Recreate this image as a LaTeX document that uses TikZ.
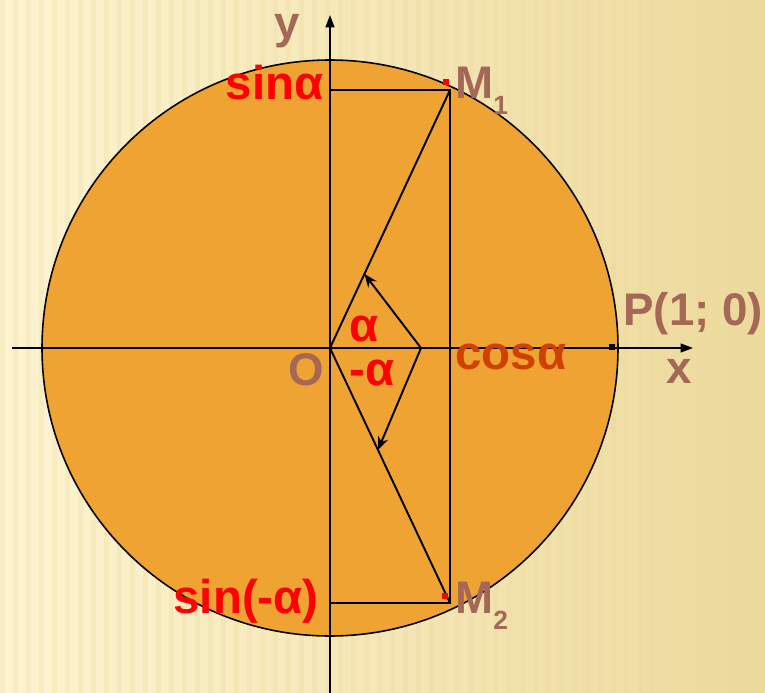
\documentclass[tikz,border=0pt]{standalone}
\usepackage{fontspec}
\setmainfont{Liberation Sans}
\definecolor{DiskOrange}{RGB}{238,163,50}
\definecolor{LabelBrown}{RGB}{166,104,86}
\definecolor{SinRed}{RGB}{255,0,0}
\definecolor{CosRed}{RGB}{208,64,0}
\definecolor{PaperLight}{RGB}{253,244,208}
\definecolor{PaperDark}{RGB}{236,217,156}
\usepackage{tikz}
\usetikzlibrary{arrows.meta, calc}

\begin{document}
\begin{tikzpicture}[x=0.02cm, y=-0.02cm,
    axisline/.style={line width=0.9pt, -{Triangle[length=7pt, width=5pt]}},
    frameline/.style={line width=1.1pt},
    vecline/.style={line width=1.1pt, -{Stealth[length=7.5pt, width=6pt]}},
    brownlbl/.style={text=LabelBrown, font=\fontsize{26}{26}\selectfont\bfseries, inner sep=0pt},
    mlbl/.style={text=LabelBrown, font=\fontsize{26}{26}\selectfont\bfseries, inner sep=0pt},
    redlbl/.style={text=SinRed, font=\fontsize{27}{27}\selectfont\bfseries, inner sep=0pt},
    coslbl/.style={text=CosRed, font=\fontsize{27}{27}\selectfont\bfseries, inner sep=0pt},
    dotmark/.style={rectangle, inner sep=0pt, minimum size=0.12cm}]
  \useasboundingbox (0,0) rectangle (765,693);
  \begin{scope}
    \clip (0,0) rectangle (765,693);
    \fill[left color=PaperLight, right color=PaperDark] (0,0) rectangle (765,693);
    \foreach \s in {0,13,...,760}
      \fill[PaperDark, opacity=0.25] (\s,0) rectangle ++(5,693);

    \coordinate (O) at (330,348);
    \coordinate (M1) at (450,90);
    \coordinate (M2) at (450,603);
    \coordinate (S1) at (330,90);
    \coordinate (S2) at (330,603);
    \coordinate (A) at (421,348);
    \coordinate (B1) at ($(O)!0.287!(M1)$);
    \coordinate (B2) at ($(O)!0.40!(M2)$);
    \coordinate (xl) at (12,348);
    \coordinate (xr) at (693,348);
    \coordinate (yb) at (330,700);
    \coordinate (yt) at (330,15);

    \filldraw[fill=DiskOrange, draw=black, line width=0.9pt] (O) circle (288);

    \draw[axisline] (xl) -- (xr);
    \draw[axisline] (yb) -- (yt);

    \draw[frameline] (S1) -- (M1) -- (M2) -- (S2);
    \draw[frameline] (O) -- (M1);
    \draw[frameline] (O) -- (M2);
    \draw[vecline] (A) -- (B1);
    \draw[vecline] (A) -- (B2);
    \draw[frameline] (O) -- (A);

    \node[dotmark, fill=red] (dotM1) at (446,82) {};
    \node[dotmark, fill=red] (dotM2) at (445,596) {};
    \node[dotmark, fill=black] (dotP) at (612,347) {};

    \node[brownlbl, anchor=base] (lbly) at (287,38) {y};
    \node[brownlbl, anchor=base] (lblx) at (679,383) {x};
    \node[brownlbl, anchor=base] (lblO) at (306,385) {O};
    \node[brownlbl, anchor=base west] (lblP) at (623,325) {P(1; 0)};
    \node[mlbl, anchor=base west] (lblM1) at (455,98)
      {M\raisebox{-0.36em}{\fontsize{15}{15}\selectfont 1}};
    \node[mlbl, anchor=base west] (lblM2) at (455,613)
      {M\raisebox{-0.36em}{\fontsize{15}{15}\selectfont 2}};
    \node[redlbl, anchor=base east] (lblsin) at (324,99) {sinα};
    \node[redlbl, anchor=base east] (lblsinm) at (319,613) {sin(-α)};
    \node[coslbl, anchor=base west] (lblcos) at (455,369) {cosα};
    \node[redlbl, anchor=base west] (lblal) at (349,341) {α};
    \node[redlbl, anchor=base west] (lblmal) at (349,385) {-α};
  \end{scope}
\end{tikzpicture}
\end{document}
